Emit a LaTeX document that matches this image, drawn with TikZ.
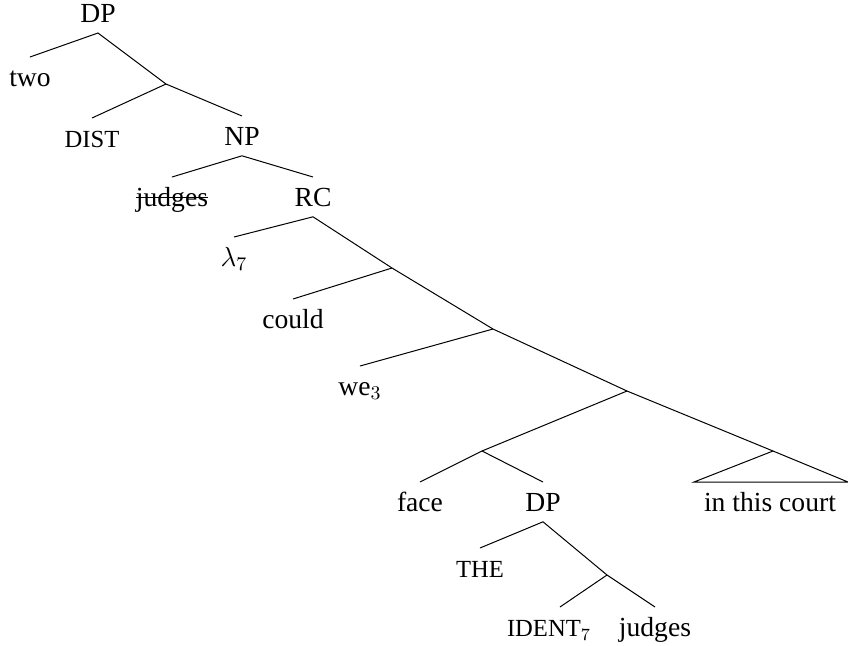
\documentclass[tikz,border=0pt]{standalone}
\usepackage{fix-cm}
\usepackage{fontspec}
\setmainfont{Liberation Serif}
\begin{document}
\begin{tikzpicture}[x=0.5pt,y=-0.5pt,
  lbl/.style={inner sep=0pt, text height=14.5pt, text depth=5pt,
    font=\fontsize{13.8}{16}\selectfont, anchor=north},
  sc/.style={lbl, font=\fontsize{12.3}{14}\selectfont},
  br/.style={line width=0.5pt}]
\useasboundingbox (0,0) rectangle (848,645);
% nodes
\node[lbl, anchor=south] (dp) at (98,33) {DP};
\node[lbl] (two) at (30,57) {two};
\coordinate (j1) at (166,84);
\node[sc] (dist) at (92,118) {DIST};
\node[lbl] (np) at (242,116) {NP};
\node[lbl] (judgesA) at (172,177) {judges};
\node[lbl] (rc) at (313,177) {RC};
\node[lbl] (lam) at (234,237) {$\lambda_7$};
\coordinate (j2) at (392,268);
\node[lbl] (could) at (293,299) {could};
\coordinate (j3) at (493,329);
\node[lbl] (we) at (360,366) {we$_3$};
\coordinate (j4) at (627,391);
\coordinate (j5) at (482,451);
\coordinate (tri) at (773,451);
\coordinate (triL) at (694,482);
\coordinate (triR) at (848,482);
\node[lbl] (face) at (420,482) {face};
\node[lbl] (dpb) at (543,482) {DP};
\node[lbl] (court) at (770,482) {in this court};
\node[sc] (the) at (480,548) {THE};
\coordinate (j6) at (607,575);
\node[sc] (ident) at (549,607) {IDENT$_7$};
\node[lbl] (judgesB) at (655,607) {judges};
% branches
\draw[br] (two.north) -- (dp.south) -- (j1) -- (np.north);
\draw[br] (dist.north) -- (j1);
\draw[br] (judgesA.north) -- (np.south) -- (rc.north);
\draw[br] (lam.north) -- (rc.south) -- (j2) -- (j3) -- (j4) -- (tri);
\draw[br] (could.north) -- (j2);
\draw[br] (we.north) -- (j3);
\draw[br] (j4) -- (j5);
\draw[br] (face.north) -- (j5) -- (dpb.north);
\draw[br] (tri) -- (triL) -- (triR) -- cycle;
\draw[br] (the.north) -- (dpb.south) -- (j6) -- (judgesB.north);
\draw[br] ([xshift=5.5pt]ident.north) -- (j6);
% strike-through
\draw[line width=0.6pt] ([yshift=4.5pt]judgesA.base west) -- ([yshift=4.5pt]judgesA.base east);
\end{tikzpicture}
\end{document}
